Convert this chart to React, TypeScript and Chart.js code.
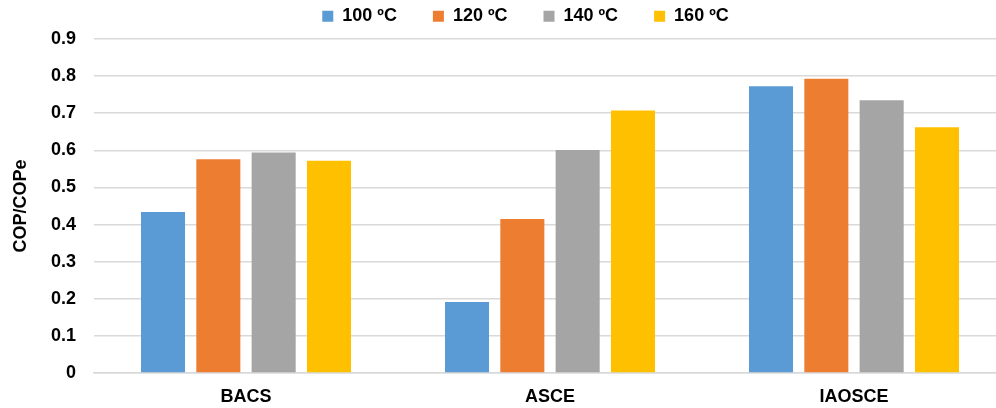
import React, { useEffect, useRef } from "react";
import { Chart, registerables } from "chart.js";

Chart.register(...registerables);

const categories = ["BACS", "ASCE", "IAOSCE"];
const seriesLabels = ["100 ºC", "120 ºC", "140 ºC", "160 ºC"];
const s100 = [0.434, 0.191, 0.773];
const s120 = [0.576, 0.415, 0.793];
const s140 = [0.594, 0.601, 0.735];
const s160 = [0.572, 0.707, 0.662];
const colors = ["#5B9BD5", "#ED7D31", "#A5A5A5", "#FFC000"];
const yTickLabels = ["0", "0.1", "0.2", "0.3", "0.4", "0.5", "0.6", "0.7", "0.8", "0.9"];
const yTitle = "COP/COPe";

const FONT = "'Liberation Sans', Arial, sans-serif";

const legendShift = {
  id: "legendShift",
  afterLayout(chart: any) {
    const l = chart.legend;
    if (!l) return;
    const dx = 22.5;
    l.left += dx;
    l.right += dx;
    l.top = -28.8;
    l.height = 93.6;
    l.bottom = l.top + l.height;
  },
};

export default function App() {
  const ref = useRef<HTMLCanvasElement | null>(null);
  useEffect(() => {
    document.body.style.overflow = "hidden";
    const values = [s100, s120, s140, s160];
    const chart = new Chart(ref.current as HTMLCanvasElement, {
      type: "bar",
      data: {
        labels: categories,
        datasets: seriesLabels.map((lab, i) => ({
          label: lab,
          data: values[i],
          backgroundColor: colors[i],
          borderWidth: 0,
          categoryPercentage: 0.728,
          barPercentage: 0.796,
        })),
      },
      options: {
        animation: false,
        responsive: true,
        maintainAspectRatio: false,
        layout: { padding: 0 },
        plugins: {
          tooltip: { enabled: false },
          legend: {
            position: "top",
            maxHeight: 39,
            labels: {
              boxWidth: 11,
              boxHeight: 11,
              padding: 36,
              color: "#000",
              font: { family: FONT, size: 18, weight: "bold" },
            },
          },
        },
        scales: {
          x: {
            afterFit: (s: any) => {
              s.height = 35;
            },
            grid: { display: false, drawTicks: false },
            border: { display: true, color: "#D9D9D9", width: 1.5 },
            ticks: {
              padding: 13,
              color: "#000",
              font: { family: FONT, size: 18, weight: "bold" },
            },
          },
          y: {
            min: 0,
            max: 0.9,
            afterFit: (s: any) => {
              s.width = 94;
            },
            grid: { color: "#D9D9D9", lineWidth: 1.5, drawTicks: false },
            border: { display: false },
            ticks: {
              stepSize: 0.1,
              padding: 18,
              color: "#000",
              font: { family: FONT, size: 18, weight: "bold" },
              callback: (_v: any, i: number) => yTickLabels[i],
            },
            title: {
              display: true,
              text: yTitle,
              color: "#000",
              padding: { top: 10, bottom: 0 },
              font: { family: FONT, size: 18, weight: "bold" },
            },
          },
        },
      },
      plugins: [legendShift],
    });
    return () => chart.destroy();
  }, []);
  return (
    <div style={{ position: "fixed", left: 0, top: 0, width: 996, height: 408, overflow: "hidden", background: "#fff" }}>
      <div style={{ position: "absolute", left: 0, top: 0, width: 1006, height: 408 }}>
        <canvas ref={ref} />
      </div>
    </div>
  );
}
